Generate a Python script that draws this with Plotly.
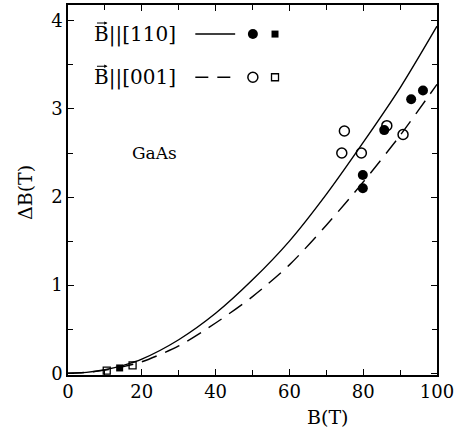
import plotly.graph_objects as go

# Theory curves
B_curve = [0, 5, 10, 15, 20, 30, 40, 50, 60, 70, 80, 90, 100]
dB_110 = [0, 0.01, 0.04, 0.09, 0.16, 0.38, 0.68, 1.06, 1.50, 2.03, 2.62, 3.24, 3.94]
dB_001 = [0, 0.01, 0.035, 0.075, 0.13, 0.31, 0.57, 0.87, 1.23, 1.68, 2.17, 2.70, 3.28]

# Experimental points
B_110_circ = [79.9, 79.9, 85.7, 93.0, 96.2]
dB_110_circ = [2.10, 2.25, 2.76, 3.11, 3.21]
B_001_circ = [74.2, 74.9, 79.5, 86.4, 90.8]
dB_001_circ = [2.50, 2.75, 2.50, 2.81, 2.71]
B_110_sq = [14.0]
dB_110_sq = [0.06]
B_001_sq = [10.5, 17.5]
dB_001_sq = [0.03, 0.09]

x_ticks = [0, 20, 40, 60, 80, 100]
y_ticks = [0, 1, 2, 3, 4]

FONT = "DejaVu Serif"
BLK = "black"

fig = go.Figure()
fig.add_trace(go.Scatter(x=B_curve, y=dB_110, mode="lines",
                         line=dict(color=BLK, width=1.4, shape="spline", smoothing=0.8)))
fig.add_trace(go.Scatter(x=B_curve, y=dB_001, mode="lines",
                         line=dict(color=BLK, width=1.4, shape="spline", smoothing=0.8,
                                   dash="16px,9px")))
fig.add_trace(go.Scatter(x=B_110_circ, y=dB_110_circ, mode="markers",
                         marker=dict(symbol="circle", size=10, color=BLK)))
fig.add_trace(go.Scatter(x=B_001_circ, y=dB_001_circ, mode="markers",
                         marker=dict(symbol="circle-open", size=10, color=BLK, line=dict(width=1.5))))
fig.add_trace(go.Scatter(x=B_110_sq, y=dB_110_sq, mode="markers",
                         marker=dict(symbol="square", size=7, color=BLK)))
fig.add_trace(go.Scatter(x=B_001_sq, y=dB_001_sq, mode="markers",
                         marker=dict(symbol="square-open", size=7, color=BLK, line=dict(width=1.3))))

# Custom legend (layout positions in data units)
leg_rows = [3.85, 3.36]
leg_text_x = 7.3
leg_line_x = [34.5, 45.3]
leg_circ_x = 50.1
leg_sq_x = 56.1
fig.add_trace(go.Scatter(x=leg_line_x, y=[leg_rows[0]] * 2, mode="lines",
                         line=dict(color=BLK, width=1.4)))
fig.add_trace(go.Scatter(x=leg_line_x, y=[leg_rows[1]] * 2, mode="lines",
                         line=dict(color=BLK, width=1.4, dash="13px,9px")))
fig.add_trace(go.Scatter(x=[leg_circ_x], y=[leg_rows[0]], mode="markers",
                         marker=dict(symbol="circle", size=10, color=BLK)))
fig.add_trace(go.Scatter(x=[leg_sq_x], y=[leg_rows[0]], mode="markers",
                         marker=dict(symbol="square", size=7, color=BLK)))
fig.add_trace(go.Scatter(x=[leg_circ_x], y=[leg_rows[1]], mode="markers",
                         marker=dict(symbol="circle-open", size=10, color=BLK, line=dict(width=1.5))))
fig.add_trace(go.Scatter(x=[leg_sq_x], y=[leg_rows[1]], mode="markers",
                         marker=dict(symbol="square-open", size=7, color=BLK, line=dict(width=1.3))))

ann_font = dict(family=FONT, size=20, color=BLK)
for row, lab in zip(leg_rows, ["B||[110]", "B||[001]"]):
    fig.add_annotation(x=leg_text_x, y=row, xref="x", yref="y", text=lab,
                       showarrow=False, xanchor="left", yanchor="middle", xshift=-3,
                       font=ann_font)
    # vector arrow over the B (decoration)
    fig.add_annotation(x=leg_text_x + 3.4, y=row + 0.125, xref="x", yref="y", text="",
                       showarrow=True, arrowhead=2, arrowsize=0.6, arrowwidth=1.1,
                       arrowcolor=BLK, ax=-12, ay=0, standoff=0, startstandoff=0)
fig.add_annotation(x=23.5, y=2.5, xref="x", yref="y", text="GaAs",
                   showarrow=False, xanchor="center", yanchor="middle",
                   font=dict(family=FONT, size=17, color=BLK))

W, H = 461, 436
ml, mr, mt, mb = 68, 24, 3, 61
pw, ph = W - ml - mr, H - mt - mb
fig.add_annotation(x=(327 - ml) / pw, y=(H - mb - 417) / ph, xref="paper", yref="paper",
                   text="B(T)", showarrow=False, xanchor="center", yanchor="middle",
                   font=dict(family=FONT, size=19, color=BLK))
fig.add_annotation(x=(25 - ml) / pw, y=(H - mb - 192) / ph, xref="paper", yref="paper",
                   text="\u0394B(T)", textangle=-90, showarrow=False,
                   xanchor="center", yanchor="middle",
                   font=dict(family=FONT, size=19, color=BLK))

axis_common = dict(showgrid=False, zeroline=False, showline=True, linecolor=BLK, linewidth=1.5,
                   mirror="ticks", ticks="inside", ticklen=6, tickwidth=1.2, tickcolor=BLK,
                   tickfont=dict(family=FONT, size=18, color=BLK))
fig.update_xaxes(range=[0, 100], tickvals=x_ticks, ticktext=[str(v) for v in x_ticks],
                 minor=dict(dtick=10, ticks="inside", ticklen=5, tickwidth=1.2, tickcolor=BLK),
                 **axis_common)
fig.update_yaxes(range=[-0.02, 4.18], tickvals=y_ticks, ticktext=[str(v) for v in y_ticks],
                 minor=dict(dtick=0.5, ticks="inside", ticklen=5, tickwidth=1.2, tickcolor=BLK),
                 **axis_common)
fig.update_layout(width=W, height=H, margin=dict(l=ml, r=mr, t=mt, b=mb),
                  showlegend=False, plot_bgcolor="white", paper_bgcolor="white")
fig.write_html("out.html")
